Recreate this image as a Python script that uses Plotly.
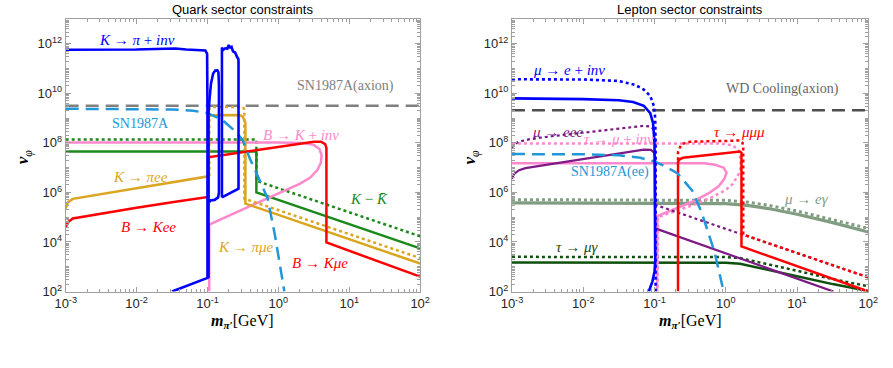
import plotly.graph_objects as go

# ---------------- data: log10(m_pi' / GeV) and log10(v_phi / GeV) ----------------
# Quark sector
K_PI_INV_LOGM = [-3, -2.5, -2.0, -1.6, -1.45, -1.3, -1.1, -1.03, -1.005, -1.0, -1.0, -1.5, None,
                 -0.985, -0.985, -0.97, -0.95, -0.92, -0.89, -0.86, -0.845, -0.838, -0.838, -0.85, -0.9, -0.96, -0.975, None,
                 -0.796, -0.796, -0.78, -0.75, -0.72, -0.70, -0.68, -0.66, -0.64, -0.61, -0.58, -0.565, -0.562, -0.562, -0.796]
K_PI_INV_LOGV = [11.76, 11.76, 11.77, 11.8, 11.81, 11.77, 11.76, 11.73, 11.6, 9.3, 2.55, 2.0, None,
                 2.55, 9.2, 9.8, 10.4, 10.8, 10.92, 10.93, 10.85, 10.3, 6.0, 5.8, 5.7, 5.68, 5.6, None,
                 5.8, 11.85, 11.75, 11.82, 11.8, 11.95, 11.85, 11.88, 11.7, 11.65, 11.45, 11.4, 11.3, 6.15, 5.8]

SN_AXION_Q_LOGM = [-3, 2]
SN_AXION_Q_LOGV = [9.5, 9.5]

SN1987A_LOGM = [-3, -2, -1.5, -1.2, -1.0, -0.8, -0.6, -0.5, -0.4, -0.29, -0.15, -0.05, -0.01, 0.085]
SN1987A_LOGV = [9.38, 9.37, 9.35, 9.3, 9.2, 8.95, 8.45, 8.1, 7.35, 6.66, 5.75, 4.3, 3.62, 2.0]

KKBAR_LOGM = [-3, -0.31, -0.31, 2]
KKBAR_LOGV = [7.65, 7.65, 6.0, 3.74]
KKBAR_DOT_LOGM = [-3, -0.31, -0.31, 2]
KKBAR_DOT_LOGV = [8.14, 8.14, 6.47, 4.23]

B_K_INV_LOGM = [-0.975, -0.975, -0.5, 0.0, 0.3, 0.45, 0.55, 0.6, 0.61, 0.58, 0.5, 0.35, 0.0, -3]
B_K_INV_LOGV = [2.0, 4.7, 5.32, 5.97, 6.35, 6.6, 6.9, 7.2, 7.5, 7.75, 7.92, 8.0, 8.02, 8.02]

K_PI_EE_LOGM = [-3, -2.97, -2.9, -2.5, -2.0, -1.5, -1.0, -0.99, -0.99, -0.95, -0.55, -0.5, -0.465, -0.465, 2]
K_PI_EE_LOGV = [5.35, 5.6, 5.74, 5.93, 6.17, 6.4, 6.65, 6.65, 9.05, 9.12, 9.13, 9.05, 8.8, 5.55, 3.13]

K_PI_MUE_LOGM = [-0.975, -0.975, -0.95, -0.5, -0.48, -0.48, 2]
K_PI_MUE_LOGV = [6.66, 9.4, 9.45, 9.45, 9.35, 5.75, 3.35]

B_KEE_LOGM = [-3, -2.97, -2.9, -2.5, -2.0, -1.5, -1.0, -0.99, -0.99, 0.0, 0.5, 0.6, 0.66, 0.678, 0.678, 2]
B_KEE_LOGV = [4.6, 4.8, 4.95, 5.15, 5.38, 5.6, 5.82, 5.82, 7.42, 7.85, 8.05, 8.05, 7.95, 7.8, 3.98, 2.6]

# Lepton sector
MU_E_INV_LOGM = [-3, -2.5, -2, -1.5, -1.3, -1.15, -1.06, -1.02, -1.0, -0.99, -1.0, -1.03, -1.08]
MU_E_INV_LOGV = [9.8, 9.79, 9.77, 9.72, 9.65, 9.5, 9.2, 8.8, 8.0, 3.2, 2.8, 2.4, 2.0]
MU_E_INV_DOT_LOGM = [-3, -2, -1.5, -1.27, -1.15, -1.06, -1.01, -0.99, -0.985, -0.985]
MU_E_INV_DOT_LOGV = [10.57, 10.56, 10.5, 10.34, 10.15, 9.9, 9.5, 9.0, 8.0, 2.0]

WD_LOGM = [-3, 2]
WD_LOGV = [9.32, 9.32]

MU_EEE_LOGM = [-3, -2.97, -2.9, -2.81, -2.5, -2.0, -1.5, -1.15, -1.05, -1.0, -0.99, -0.99, 1.51]
MU_EEE_LOGV = [6.55, 6.75, 6.9, 6.98, 7.12, 7.35, 7.57, 7.73, 7.72, 7.6, 7.3, 4.55, 2.0]
MU_EEE_DOT_LOGM = [-3, -2.97, -2.9, -2.75, -2.5, -2.0, -1.5, -1.15, -1.05, -1.0, -0.99, -0.99, 2.0]
MU_EEE_DOT_LOGV = [7.8, 7.95, 8.05, 8.15, 8.25, 8.42, 8.59, 8.69, 8.66, 8.5, 8.2, 5.5, 2.57]

TAU_3MU_LOGM = [-0.67, -0.67, -0.64, -0.6, 0.2, 0.22, 0.22, 2]
TAU_3MU_LOGV = [2.0, 7.25, 7.35, 7.4, 7.65, 7.6, 3.82, 2.0]
TAU_3MU_DOT_LOGM = [-0.67, -0.67, -0.62, -0.5, 0.0, 0.2, 0.235, 0.245, 0.245, 2]
TAU_3MU_DOT_LOGV = [7.3, 7.65, 7.95, 8.05, 8.08, 8.1, 8.0, 7.8, 4.3, 2.57]

TAU_MU_INV_LOGM = [-3, -0.3, -0.15, -0.03, 0.01, -0.02, -0.1, -0.25, -0.45, -0.7, -0.96, -0.965]
TAU_MU_INV_LOGV = [7.18, 7.18, 7.12, 7.0, 6.8, 6.55, 6.25, 5.95, 5.65, 5.35, 5.05, 2.0]
TAU_MU_INV_DOT_LOGM = [-3, -0.1, 0.1, 0.18, 0.21, 0.2, 0.1, 0.0, -0.2, -0.45, -0.7, -0.95, -0.955]
TAU_MU_INV_DOT_LOGV = [7.98, 7.98, 7.9, 7.7, 7.3, 6.85, 6.35, 6.1, 5.8, 5.5, 5.25, 5.0, 2.0]

SN_EE_LOGM = [-3, -2, -1.5, -1.2, -1.0, -0.85, -0.68, -0.47, -0.34, -0.16, -0.03]
SN_EE_LOGV = [7.55, 7.54, 7.5, 7.4, 7.25, 7.05, 6.78, 6.07, 5.2, 3.62, 2.0]

MU_EGAMMA_LOGM = [-3, -1, 0, 0.3, 0.6, 1.0, 1.5, 2]
MU_EGAMMA_LOGV = [5.58, 5.58, 5.55, 5.48, 5.35, 5.12, 4.78, 4.4]
MU_EGAMMA_DOT_LOGV = [5.71, 5.71, 5.68, 5.61, 5.48, 5.25, 4.91, 4.55]

TAU_MUGAMMA_LOGM = [-3, 0, 0.2, 0.4, 0.56, 1.03, 1.5, 2]
TAU_MUGAMMA_LOGV = [3.17, 3.16, 3.12, 3.0, 2.9, 2.6, 2.3, 2.02]
TAU_MUGAMMA_DOT_LOGV = [3.4, 3.39, 3.35, 3.23, 3.12, 2.82, 2.5, 2.21]

X_TICK_EXP = [-3, -2, -1, 0, 1, 2]
Y_TICK_EXP = [2, 4, 6, 8, 10, 12]

# ---------------- figure ----------------
W, H = 893, 368


def lin(vals):
    return [None if v is None else 10 ** v for v in vals]


def P(x, y):
    return x / W, 1 - y / H


fig = go.Figure()


def add(logm, logv, color, width, dash="solid", panel=1):
    fig.add_trace(go.Scatter(
        x=lin(logm), y=lin(logv), mode="lines",
        line=dict(color=color, width=width, dash=dash),
        xaxis="x" if panel == 1 else "x2", yaxis="y" if panel == 1 else "y2",
        connectgaps=False, hoverinfo="skip", showlegend=False))


BLUE = "#0000ff"
GOLD = "#dba520"
RED = "#ff0000"
GREEN = "#1b8a1b"
PINK = "#ff88cc"
LBLUE = "#2196d9"
PURPLE = "#7d1a85"
GGREEN = "#819d81"
DGREEN = "#0f500f"

DASH = "13px,7px"

# Quark panel
add(SN_AXION_Q_LOGM, SN_AXION_Q_LOGV, "#808080", 2.5, DASH, 1)
add(KKBAR_DOT_LOGM, KKBAR_DOT_LOGV, GREEN, 2.5, "dot", 1)
add(KKBAR_LOGM, KKBAR_LOGV, GREEN, 2.5, "solid", 1)
add(B_K_INV_LOGM, B_K_INV_LOGV, PINK, 2.5, "solid", 1)
add(K_PI_MUE_LOGM, K_PI_MUE_LOGV, GOLD, 2.5, "dot", 1)
add(K_PI_EE_LOGM, K_PI_EE_LOGV, GOLD, 2.5, "solid", 1)
add(B_KEE_LOGM, B_KEE_LOGV, RED, 2.5, "solid", 1)
add(SN1987A_LOGM, SN1987A_LOGV, LBLUE, 2.5, DASH, 1)
add(K_PI_INV_LOGM, K_PI_INV_LOGV, BLUE, 2.6, "solid", 1)

# Lepton panel
add(MU_EGAMMA_LOGM, MU_EGAMMA_DOT_LOGV, GGREEN, 3, "dot", 2)
add(MU_EGAMMA_LOGM, MU_EGAMMA_LOGV, GGREEN, 3.2, "solid", 2)
add(TAU_MUGAMMA_LOGM, TAU_MUGAMMA_DOT_LOGV, DGREEN, 2.5, "dot", 2)
add(TAU_MUGAMMA_LOGM, TAU_MUGAMMA_LOGV, DGREEN, 2.5, "solid", 2)
add(TAU_MU_INV_DOT_LOGM, TAU_MU_INV_DOT_LOGV, PINK, 2.5, "dot", 2)
add(TAU_MU_INV_LOGM, TAU_MU_INV_LOGV, PINK, 2.5, "solid", 2)
add(MU_EEE_DOT_LOGM, MU_EEE_DOT_LOGV, PURPLE, 2.2, "dot", 2)
add(MU_EEE_LOGM, MU_EEE_LOGV, PURPLE, 2.2, "solid", 2)
add(TAU_3MU_DOT_LOGM, TAU_3MU_DOT_LOGV, RED, 2.5, "dot", 2)
add(TAU_3MU_LOGM, TAU_3MU_LOGV, RED, 2.5, "solid", 2)
add(SN_EE_LOGM, SN_EE_LOGV, LBLUE, 2.5, DASH, 2)
add(WD_LOGM, WD_LOGV, "#4d4d4d", 2.5, DASH, 2)
add(MU_E_INV_DOT_LOGM, MU_E_INV_DOT_LOGV, BLUE, 2.6, "dot", 2)
add(MU_E_INV_LOGM, MU_E_INV_LOGV, BLUE, 2.6, "solid", 2)

# axes
FRAME = "#a0a0a0"
tickfont = dict(family="Liberation Sans, Arial", size=13, color="#262626")


def xax(domain, anchor):
    return dict(type="log", domain=domain, anchor=anchor, range=[-3, 2],
                showline=True, linecolor=FRAME, linewidth=1, mirror="allticks",
                ticks="inside", ticklen=5, tickcolor=FRAME, showgrid=False, zeroline=False,
                tickvals=[10 ** e for e in X_TICK_EXP],
                ticktext=["10<sup>%d</sup>" % e for e in X_TICK_EXP],
                tickfont=tickfont,
                minor=dict(ticks="inside", ticklen=3, tickcolor=FRAME,
                           tickvals=[k * 10 ** e for e in range(-4, 3) for k in range(2, 10)], showgrid=False))


def yax(domain, anchor):
    return dict(type="log", domain=domain, anchor=anchor, range=[2, 13],
                showline=True, linecolor=FRAME, linewidth=1, mirror="allticks",
                ticks="inside", ticklen=5, tickcolor=FRAME, showgrid=False, zeroline=False,
                tickvals=[10 ** e for e in Y_TICK_EXP],
                ticktext=["10<sup>%d</sup>" % e for e in Y_TICK_EXP],
                tickfont=tickfont,
                minor=dict(ticks="inside", ticklen=3, tickcolor=FRAME,
                           tickvals=[k * 10 ** e for e in range(1, 14) for k in range(1, 10) if not (k == 1 and e % 2 == 0)],
                           showgrid=False))


ydom = [1 - 298 / H, 1 - 19.5 / H]
fig.update_layout(
    width=W, height=H, margin=dict(l=0, r=0, t=0, b=0),
    paper_bgcolor="white", plot_bgcolor="white",
    xaxis=xax([56 / W, 419 / W], "y"),
    yaxis=yax(ydom, "x"),
    xaxis2=xax([513 / W, 878 / W], "y2"),
    yaxis2=yax(ydom, "x2"),
)

SERIF = "Liberation Serif, DejaVu Serif, serif"
anns = []


def label(text, x, y, color, size=15, family=SERIF, angle=0):
    xx, yy = P(x, y)
    anns.append(dict(text=text, x=xx, y=yy, xref="paper", yref="paper", showarrow=False,
                     xanchor="center", yanchor="middle", textangle=angle,
                     font=dict(family=family, size=size, color=color)))


# titles
label("Quark sector constraints", 237, 10, "#000000", 13, "Liberation Sans, Arial")
label("Lepton sector constraints", 695, 10, "#000000", 13, "Liberation Sans, Arial")

# axis titles
xt = "<b><i>m</i></b><sub><b><i>π′</i></b></sub>[GeV]"
label(xt, 237, 329, "#000000", 16)
label(xt, 696, 329, "#000000", 16)
yt = "<b><i>v</i></b><sub><i>φ</i></sub>"
label(yt, 13, 160, "#000000", 17, angle=-90)
label(yt, 471, 160, "#000000", 17, angle=-90)

# quark labels
label("<i>K</i> → <i>π</i> + <i>inv</i>", 129, 41, BLUE)
label("SN1987A(axion)", 343, 88, "#808080", 14)
label("SN1987A", 133, 126, LBLUE, 14)
label("<i>B</i> → <i>K</i> + <i>inv</i>", 297, 138, PINK)
label("<i>K</i> → <i>πee</i>", 133, 181, GOLD)
label("<i>B</i> → <i>Kee</i>", 141, 232, RED)
label("<i>K</i> − <i>K̄</i>", 367, 203, GREEN)
label("<i>K</i> → <i>πμe</i>", 241, 252, GOLD)
label("<i>B</i> → <i>Kμe</i>", 316, 269, RED)

# lepton labels
label("<i>μ</i> → <i>e</i> + <i>inv</i>", 571, 72, BLUE)
label("WD Cooling(axion)", 790, 91, "#666666", 14)
label("<i>μ</i> → <i>eee</i>", 560, 135, PURPLE)
label("<i>τ</i> → <i>μ</i> + <i>inv</i>", 623, 142, PINK)
label("<i>τ</i> → <i>μμμ</i>", 746, 135, RED)
label("SN1987A(ee)", 613, 176, LBLUE, 14)
label("<i>μ</i> → <i>eγ</i>", 815, 203, GGREEN)
label("<i>τ</i> → <i>μγ</i>", 580, 252, DGREEN)

fig.update_layout(annotations=anns)
fig.write_html("out.html")
